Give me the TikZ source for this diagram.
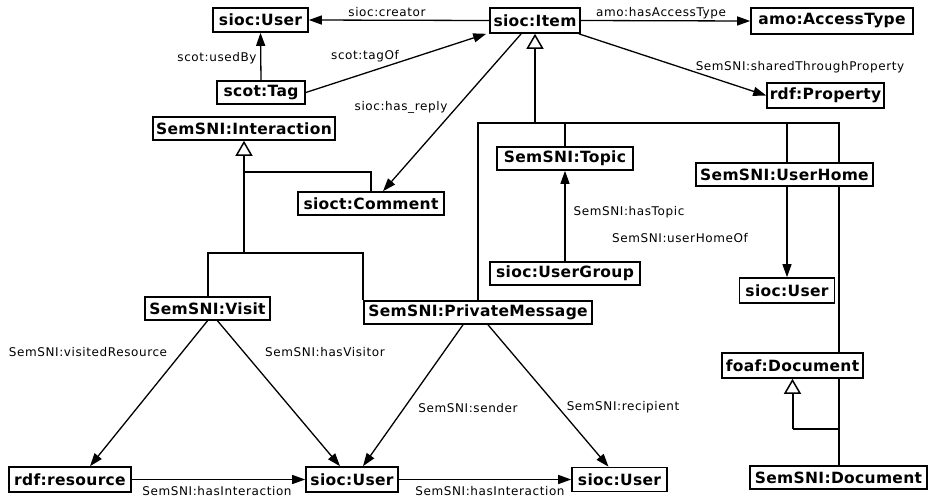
\documentclass[tikz,border=0pt]{standalone}
\usepackage{fontspec}
\setmainfont{DejaVu Sans}
\newfontfamily\boxfont{DejaVu Sans}[BoldFont={DejaVu Sans Bold},LetterSpace=2]
\newfontfamily\lblfont{DejaVu Sans}[LetterSpace=5]
\usetikzlibrary{arrows.meta,calc}
\pgfdeclarelayer{bg}
\pgfsetlayers{bg,main}
\tikzset{
  cls/.style={draw, line width=1.6pt, fill=white, inner sep=0pt,
    font=\boxfont\fontsize{15.5}{15.5}\selectfont\bfseries},
  lbl/.style={inner sep=0pt, font=\lblfont\fontsize{12}{12}\selectfont},
  assoc/.style={line width=1.3pt, -{Triangle[length=13pt,width=9pt]}},
  genhead/.style={line width=2.8pt, {Triangle[open,length=15pt,width=17pt,line width=1.5pt,fill=white]}-},
  genline/.style={line width=2pt}
}
\begin{document}
\begin{tikzpicture}[x=1pt,y=-1pt]
\useasboundingbox (0,0) rectangle (930,499);
\begin{pgfonlayer}{bg}
\fill[white] (0,0) rectangle (930,499);
\end{pgfonlayer}
\path
 node[cls, minimum width=95pt, minimum height=24pt] (userA) at (260.5,20) {sioc:User}
 node[cls, minimum width=90pt, minimum height=25pt] (item) at (535,20.5) {sioc:Item}
 node[cls, minimum width=162pt, minimum height=26pt] (access) at (832,21) {amo:AccessType}
 node[cls, minimum width=88pt, minimum height=23pt] (tag) at (261,92.5) {scot:Tag}
 node[cls, minimum width=117pt, minimum height=25pt] (property) at (825.5,95.5) {rdf:Property}
 node[cls, minimum width=182pt, minimum height=23pt] (interaction) at (244,128.5) {SemSNI:Interaction}
 node[cls, minimum width=136pt, minimum height=23pt] (topic) at (565,158.5) {SemSNI:Topic}
 node[cls, minimum width=177pt, minimum height=23pt] (userhome) at (784.5,174.5) {SemSNI:UserHome}
 node[cls, minimum width=146pt, minimum height=23pt] (comment) at (371,203.5) {sioct:Comment}
 node[cls, minimum width=150pt, minimum height=23pt] (usergroup) at (565,273.5) {sioc:UserGroup}
 node[cls, minimum width=95pt, minimum height=25pt] (userR) at (787,290.5) {sioc:User}
 node[cls, minimum width=125pt, minimum height=23pt] (visit) at (207.5,308.5) {SemSNI:Visit}
 node[cls, minimum width=228pt, minimum height=23pt] (pm) at (478,312.5) {SemSNI:PrivateMessage}
 node[cls, minimum width=141pt, minimum height=25pt] (foaf) at (792.5,365.5) {foaf:Document}
 node[cls, minimum width=122pt, minimum height=25pt] (resource) at (70,479.5) {rdf:resource}
 node[cls, minimum width=92pt, minimum height=25pt] (userM) at (352,479.5) {sioc:User}
 node[cls, minimum width=95pt, minimum height=24pt] (userB) at (619.5,479.5) {sioc:User}
 node[cls, minimum width=177pt, minimum height=23pt] (document) at (838.5,477.5) {SemSNI:Document};
\coordinate (ib) at (244,253);
\coordinate (ic) at (244,172);
\coordinate (jb) at (535,123);
\coordinate (fj) at (792.5,429);
\begin{pgfonlayer}{bg}
% generalisation: Interaction
\draw[genhead] (interaction.south) -- (ib);
\draw[genline] (visit.north) |- (ib) -| (pm.north west);
\draw[genline] (ic) -| (comment.north);
% generalisation: Item
\draw[genhead] (item.south) -- (jb);
\draw[genline] (pm.north) |- (jb) -- (jb -| document.north) -- (document.north);
\draw[genline] (topic.north) -- (topic.north |- jb);
\draw[genline] (userhome.north -| userR.north) -- (userR.north |- jb);
% generalisation: foaf:Document
\draw[genhead, line width=2pt] (foaf.south) -- (fj);
\draw[genline] (fj) -- (fj -| document.north);
\end{pgfonlayer}
% associations
\draw[assoc] (item.west) -- (userA.east);
\draw[assoc] (item.east) -- (access.west);
\draw[assoc] (tag.north) -- (userA.south);
\draw[assoc] (tag.east) -- ([xshift=-3pt]item.south west);
\draw[assoc] ([xshift=32pt]item.south west) -- ([xshift=12pt]comment.north);
\draw[assoc] ([xshift=-2pt]item.south east) -- (property.west);
\draw[assoc] (userhome.south -| userR.north) -- (userR.north);
\draw[assoc] (usergroup.north) -- (topic.south);
\draw[assoc] (visit.south) -- ([xshift=20pt]resource.north);
\draw[assoc] ([xshift=10pt]visit.south) -- ([xshift=-12pt]userM.north);
\draw[assoc] ([xshift=-15pt]pm.south) -- ([xshift=11pt]userM.north);
\draw[assoc] ([xshift=10pt]pm.south) -- ([xshift=-11pt]userB.north);
\draw[assoc] (resource.east) -- (userM.west);
\draw[assoc] (userM.east) -- (userB.west);
% labels
\node[lbl] (l1) at (387,12) {sioc:creator};
\node[lbl] (l2) at (217,58) {scot:usedBy};
\node[lbl] (l3) at (365,56) {scot:tagOf};
\node[lbl] (l4) at (401,107) {sioc:has\_reply};
\node[lbl] (l5) at (661,13) {amo:hasAccessType};
\node[lbl] (l6) at (800,67) {SemSNI:sharedThroughProperty};
\node[lbl] (l7) at (629,212) {SemSNI:hasTopic};
\node[lbl] (l8) at (680,238) {SemSNI:userHomeOf};
\node[lbl] (l9) at (88,352) {SemSNI:visitedResource};
\node[lbl] (l10) at (325,352) {SemSNI:hasVisitor};
\node[lbl] (l11) at (468,408) {SemSNI:sender};
\node[lbl] (l12) at (623,407) {SemSNI:recipient};
\node[lbl] (l13) at (217,491) {SemSNI:hasInteraction};
\node[lbl] (l14) at (490,491) {SemSNI:hasInteraction};
\end{tikzpicture}
\end{document}
